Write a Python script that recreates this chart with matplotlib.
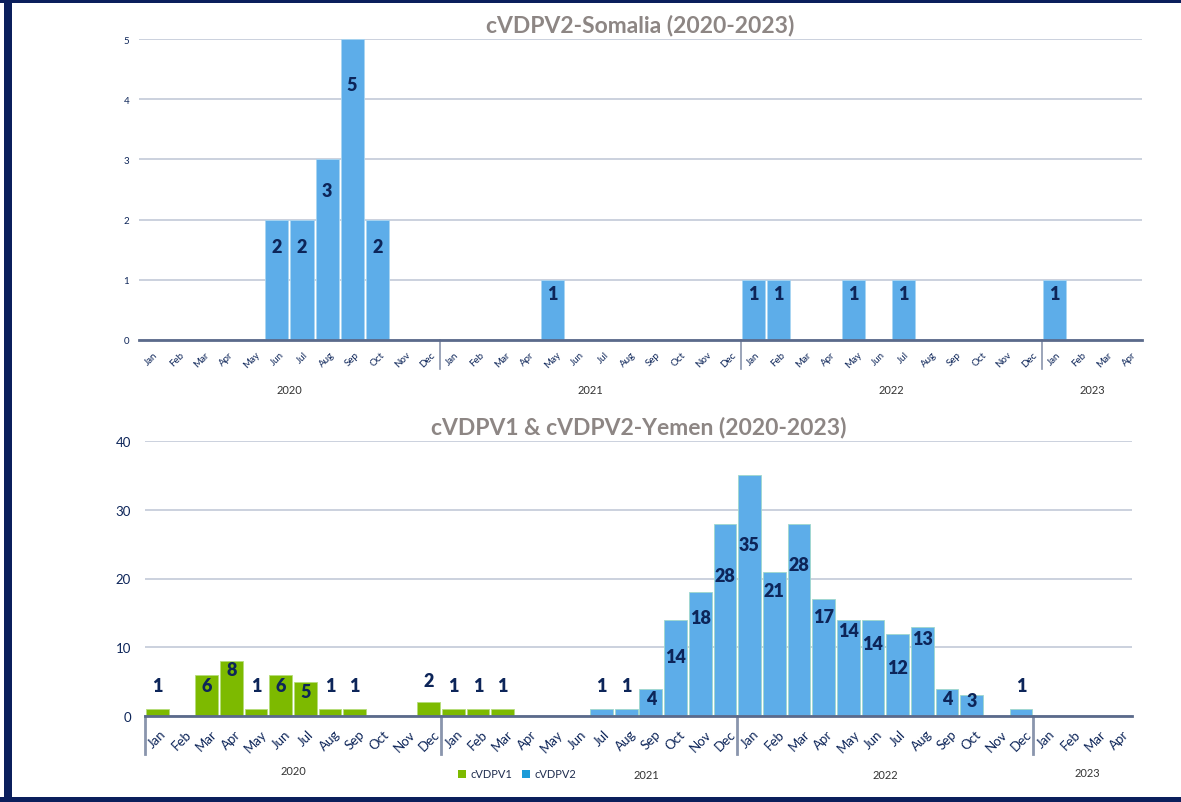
import matplotlib
matplotlib.use("Agg")
import matplotlib.pyplot as plt
from matplotlib.patches import Rectangle
from matplotlib.transforms import blended_transform_factory

# ---------------- data ----------------
months = ['Jan', 'Feb', 'Mar', 'Apr', 'May', 'Jun', 'Jul', 'Aug', 'Sep', 'Oct', 'Nov', 'Dec']
years = ['2020', '2021', '2022', '2023']
months_per_year = [12, 12, 12, 4]
month_labels = months * 3 + months[:4]

somalia_cvdpv2 = [0, 0, 0, 0, 0, 2, 2, 3, 5, 2, 0, 0,
                  0, 0, 0, 0, 1, 0, 0, 0, 0, 0, 0, 0,
                  1, 1, 0, 0, 1, 0, 1, 0, 0, 0, 0, 0,
                  1, 0, 0, 0]

yemen_cvdpv1 = [1, 0, 6, 8, 1, 6, 5, 1, 1, 0, 0, 2,
                1, 1, 1, 0, 0, 0, 0, 0, 0, 0, 0, 0,
                0, 0, 0, 0, 0, 0, 0, 0, 0, 0, 0, 0,
                0, 0, 0, 0]

yemen_cvdpv2 = [0, 0, 0, 0, 0, 0, 0, 0, 0, 0, 0, 0,
                0, 0, 0, 0, 0, 0, 1, 1, 4, 14, 18, 28,
                35, 21, 28, 17, 14, 14, 12, 13, 4, 3, 0, 1,
                0, 0, 0, 0]

# ---------------- layout / style ----------------
W, H = 1181, 803
NAVY = '#0B1F5C'
LABEL = '#0D2559'
TITLE_C = '#8D8684'
BLUE = '#5DADE9'
GREEN = '#7DBA00'
GRID = '#C2C9D8'
AXIS = '#5B6A8B'

# vertical positions of the value labels (data units), as placed in the original
somalia_label_y = {5: 1.55, 6: 1.55, 7: 2.49, 8: 4.25, 9: 1.55}
yemen_label_y = {0: 4.5, 2: 4.5, 3: 6.8, 4: 4.5, 5: 4.5, 6: 3.5, 7: 4.5, 8: 4.5, 11: 5.2,
                 12: 4.5, 13: 4.5, 14: 4.5, 18: 4.5, 19: 4.5, 20: 2.5, 21: 8.7, 22: 14.3,
                 23: 20.4, 24: 25.0, 25: 18.3, 26: 22.0, 27: 14.5, 28: 12.4, 29: 10.5,
                 30: 7.1, 31: 11.2, 32: 2.5, 33: 2.2, 35: 4.5}

plt.rcParams['font.family'] = ['Lato', 'DejaVu Sans']

fig = plt.figure(figsize=(W / 100, H / 100), dpi=100)
fig.patch.set_facecolor('white')

# navy frame
fig.patches.append(Rectangle((0, 1 - 4 / H), 1, 4 / H, transform=fig.transFigure,
                             facecolor=NAVY, edgecolor='none', zorder=10))
fig.patches.append(Rectangle((4 / W, 0), 8 / W, 1, transform=fig.transFigure,
                             facecolor=NAVY, edgecolor='none', zorder=10))
fig.patches.append(Rectangle((0, 0), 1, 5 / H, transform=fig.transFigure,
                             facecolor=NAVY, edgecolor='none', zorder=10))


def px_axes(left, right, top, bottom):
    return fig.add_axes([left / W, 1 - bottom / H, (right - left) / W, (bottom - top) / H])


def style_axes(ax, yticks, ytick_size, ypad, month_size, month_pad):
    n = len(month_labels)
    ax.set_xlim(-0.5, n - 0.5)
    ax.set_yticks(yticks)
    ax.set_ylim(yticks[0], yticks[-1])
    for s in ['top', 'right', 'left']:
        ax.spines[s].set_visible(False)
    ax.spines['bottom'].set_color(AXIS)
    ax.spines['bottom'].set_linewidth(2)
    ax.spines['bottom'].set_zorder(5)
    ax.yaxis.grid(True, color=GRID, linewidth=1.2)
    ax.set_axisbelow(True)
    ax.set_xticks(range(n))
    ax.set_xticklabels(month_labels, rotation=45, ha='center', va='top',
                       fontsize=month_size, color=LABEL)
    ax.tick_params(axis='x', length=0, pad=month_pad)
    ax.tick_params(axis='y', length=0, pad=ypad, labelsize=ytick_size, labelcolor=LABEL)
    return blended_transform_factory(ax.transData, ax.transAxes)


x = list(range(len(month_labels)))

# ---------------- top chart: Somalia ----------------
ax1 = px_axes(139, 1142, 40, 341)
tr1 = style_axes(ax1, [0, 1, 2, 3, 4, 5], 7, 7, 7, 7)
ax1.bar(x, somalia_cvdpv2, width=0.92, color=BLUE, edgecolor='#A9D6F2', linewidth=0.6, zorder=3)
for i, v in enumerate(somalia_cvdpv2):
    if v > 0:
        ax1.text(i, somalia_label_y.get(i, 0.78), str(v), ha='center', va='center',
                 fontsize=13, fontweight='heavy', color=LABEL, zorder=4)
start = 0
for k, (yr, m) in enumerate(zip(years, months_per_year)):
    if k > 0:
        ax1.plot([start - 0.5, start - 0.5], [0, -29 / 301], transform=tr1, color='#8A95AD',
                 linewidth=1.2, clip_on=False, zorder=5)
    ax1.text(start + (m - 1) / 2, -50 / 301, yr, transform=tr1, ha='center', va='center',
             fontsize=8, color='#333333')
    start += m
ax1.set_title('cVDPV2-Somalia (2020-2023)', fontsize=16.5, fontweight='bold', color=TITLE_C,
              pad=0, y=1.027)

# ---------------- bottom chart: Yemen ----------------
ax2 = px_axes(145, 1132, 442, 717)
tr2 = style_axes(ax2, [0, 10, 20, 30, 40], 9.5, 10, 9.5, 8)
ax2.bar(x, yemen_cvdpv1, width=0.92, color=GREEN, edgecolor='#B5DC7A', linewidth=0.6,
        zorder=3, label='cVDPV1')
ax2.bar(x, yemen_cvdpv2, width=0.92, color=BLUE, edgecolor='#9FD8CC', linewidth=0.6,
        zorder=3, label='cVDPV2')
for i in x:
    v = yemen_cvdpv1[i] + yemen_cvdpv2[i]
    if v > 0:
        ax2.text(i, yemen_label_y.get(i, v), str(v), ha='center', va='center',
                 fontsize=13, fontweight='heavy', color=LABEL, zorder=4)
start = 0
year_x_bottom = [5.5, 19.8, 29.5, 37.7]
year_y_bottom = [-55 / 275, -59 / 275, -59 / 275, -57 / 275]
for k, (yr, m) in enumerate(zip(years, months_per_year)):
    ax2.plot([start - 0.5, start - 0.5], [0, -38 / 275], transform=tr2, color='#8A95AD',
             linewidth=2, clip_on=False, zorder=5)
    ax2.text(year_x_bottom[k], year_y_bottom[k], yr, transform=tr2, ha='center', va='center',
             fontsize=8, color='#333333')
    start += m
ax2.set_title('cVDPV1 & cVDPV2-Yemen (2020-2023)', fontsize=16.5, fontweight='bold',
              color=TITLE_C, pad=0, y=1.027)

h_green = Rectangle((0, 0), 1, 1, facecolor=GREEN, edgecolor='none')
h_blue = Rectangle((0, 0), 1, 1, facecolor='#1C9BD8', edgecolor='none')
fig.legend([h_green, h_blue], ['cVDPV1', 'cVDPV2'], loc='center',
           bbox_to_anchor=(517 / W, 1 - 775 / H), ncol=2, frameon=False, fontsize=8,
           handlelength=0.7, handleheight=0.7, handletextpad=0.4, columnspacing=0.9,
           labelcolor='#1F2D4F')

fig.savefig('out.png', dpi=100, facecolor='white')
